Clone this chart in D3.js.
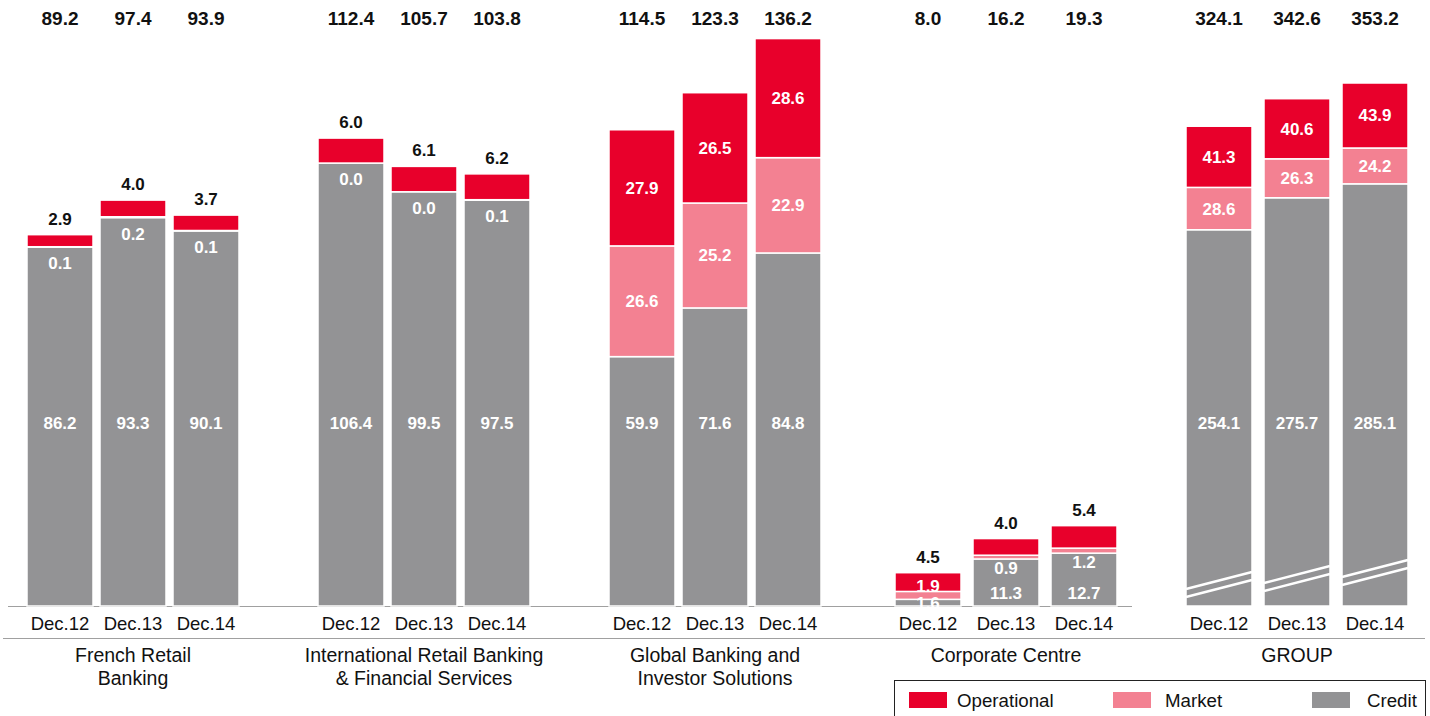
<!DOCTYPE html>
<html>
<head>
<meta charset="utf-8">
<script src="https://cdn.jsdelivr.net/npm/d3@7"></script>
<style>
  body { margin: 0; background: #fff; }
  svg { display: block; font-family: "Liberation Sans", Arial, sans-serif; }
</style>
</head>
<body>
<svg id="rwaChart" width="1430" height="716"></svg>
<script>
// RWA by business (EUR bn)
const groups = ["FRB", "IRBFS", "GBIS", "CC", "GROUP"];
const groupLabels = [["French Retail", "Banking"], ["International Retail Banking", "& Financial Services"],
  ["Global Banking and", "Investor Solutions"], ["Corporate Centre"], ["GROUP"]];
const years = ["Dec.12", "Dec.13", "Dec.14"];
const operational = [[2.9, 4.0, 3.7], [6.0, 6.1, 6.2], [27.9, 26.5, 28.6], [4.5, 4.0, 5.4], [41.3, 40.6, 43.9]];
const market = [[0.1, 0.2, 0.1], [0.0, 0.0, 0.1], [26.6, 25.2, 22.9], [1.9, 0.9, 1.2], [28.6, 26.3, 24.2]];
const credit = [[86.2, 93.3, 90.1], [106.4, 99.5, 97.5], [59.9, 71.6, 84.8], [1.6, 11.3, 12.7], [254.1, 275.7, 285.1]];
const totals = [[89.2, 97.4, 93.9], [112.4, 105.7, 103.8], [114.5, 123.3, 136.2], [8.0, 16.2, 19.3], [324.1, 342.6, 353.2]];
const seriesNames = ["Operational", "Market", "Credit"];

const colors = {Operational: "#e8002b", Market: "#f38192", Credit: "#939395"};

const svg = d3.select("#rwaChart"),
  base = 606,
  fmt = d3.format(".1f");

// businesses share a scale, GROUP has its own (broken axis)
const y = d3.scaleLinear().domain([0, 136.2]).range([base, 39]),
  yGroup = d3.scaleLinear().domain([0, 353.2]).range([base, 83]);

const gx = d3.scalePoint().domain(groups).range([133, 1297]);

function inner(i) {
  const step = i >= 3 ? 78 : 73, bw = 66, half = (3 * step - (step - bw)) / 2;
  return d3.scaleBand().domain(years).range([-half, half]).paddingInner((step - bw) / step).paddingOuter(0);
}

// axis lines
svg.append("line").attr("x1", 8).attr("x2", 1132).attr("y1", base + 0.5).attr("y2", base + 0.5)
  .attr("stroke", "#a0a0a0").attr("stroke-width", 1);
svg.append("line").attr("x1", 3).attr("x2", 1425).attr("y1", 638.5).attr("y2", 638.5)
  .attr("stroke", "#a0a0a0").attr("stroke-width", 1);

groups.forEach((g, i) => {
  const ys = g === "GROUP" ? yGroup : y,
    xb = inner(i),
    gEl = svg.append("g").attr("transform", "translate(" + gx(g) + ",0)");

  const rows = years.map((yr, j) => {
    const c = credit[i][j], m = market[i][j], o = operational[i][j];
    return {
      year: yr, total: totals[i][j],
      segs: [
        {key: "Credit", v: c, y0: 0, y1: c},
        {key: "Market", v: m, y0: c, y1: c + m},
        {key: "Operational", v: o, y0: c + m, y1: c + m + o}
      ]
    };
  });

  const bar = gEl.selectAll("g.bar").data(rows).enter().append("g").attr("class", "bar")
    .attr("transform", d => "translate(" + xb(d.year) + ",0)");

  bar.selectAll("rect").data(d => d.segs).enter().append("rect")
    .attr("x", 0).attr("width", xb.bandwidth())
    .attr("y", d => ys(d.y1)).attr("height", d => Math.max(0, ys(d.y0) - ys(d.y1)))
    .attr("fill", d => colors[d.key])
    .attr("stroke", "#fff").attr("stroke-width", 1.5);

  // break marks on the GROUP bars
  if (g === "GROUP") {
    bar.each(function(d, j) {
      const w = xb.bandwidth(), y0 = base - 17 - 6 * j;
      [0, 8].forEach(off => {
        d3.select(this).append("line")
          .attr("x1", 0).attr("x2", w)
          .attr("y1", y0 + off).attr("y2", y0 + off - 17)
          .attr("stroke", "#fff").attr("stroke-width", 2.5);
      });
    });
  }

  // segment labels
  bar.each(function(d) {
    const el = d3.select(this), cx = xb.bandwidth() / 2,
      cr = d.segs[0], mk = d.segs[1], op = d.segs[2],
      hC = ys(cr.y0) - ys(cr.y1), hM = ys(mk.y0) - ys(mk.y1), hO = ys(op.y0) - ys(op.y1);
    const lab = (txt, yy, col) => el.append("text").attr("x", cx).attr("y", yy).attr("dy", "0.35em")
      .attr("text-anchor", "middle").attr("font-weight", "bold").attr("font-size", 17)
      .attr("fill", col).text(txt);

    let yc = hC > 150 ? 423 : (hC < 20 ? (ys(cr.y0) + ys(cr.y1)) / 2 : base - 13);
    lab(fmt(cr.v), yc, "#fff");

    let ym;
    if (hM > 30) ym = (ys(mk.y0) + ys(mk.y1)) / 2;
    else if (hC < 20) ym = ys(mk.y1) - 5;
    else ym = ys(cr.y1) + (hC < 100 ? 9 : 16);
    lab(fmt(mk.v), ym, "#fff");

    if (hO > 30) lab(fmt(op.v), (ys(op.y0) + ys(op.y1)) / 2, "#fff");
    else lab(fmt(op.v), ys(op.y1) - 16, "#111");

    // total on top row
    el.append("text").attr("x", cx).attr("y", 18).attr("dy", "0.35em")
      .attr("text-anchor", "middle").attr("font-weight", "bold").attr("font-size", 19)
      .attr("fill", "#111").text(fmt(d.total));

    el.append("text").attr("x", cx).attr("y", 624).attr("dy", "0.35em")
      .attr("text-anchor", "middle").attr("font-size", 18.5).attr("fill", "#111").text(d.year);
  });

  groupLabels[i].forEach((t, k) => {
    gEl.append("text").attr("x", 0).attr("y", 655 + 23 * k).attr("dy", "0.35em")
      .attr("text-anchor", "middle").attr("font-size", 19.5).attr("fill", "#111").text(t);
  });
});

// legend
const lg = svg.append("g");
lg.append("rect").attr("x", 894.5).attr("y", 680.5).attr("width", 531).attr("height", 60)
  .attr("fill", "none").attr("stroke", "#222").attr("stroke-width", 1);
const lx = d3.scaleOrdinal().domain(seriesNames).range([909, 1113, 1312]);
const li = lg.selectAll("g.item").data(seriesNames).enter().append("g").attr("class", "item")
  .attr("transform", d => "translate(" + lx(d) + ",692)");
li.append("rect").attr("width", 38).attr("height", 16).attr("fill", d => colors[d]);
li.append("text").attr("x", d => d === "Credit" ? 55 : (d === "Market" ? 52 : 48)).attr("y", 8).attr("dy", "0.35em")
  .attr("font-size", 18.7).attr("fill", "#111").text(d => d);
</script>
</body>
</html>
